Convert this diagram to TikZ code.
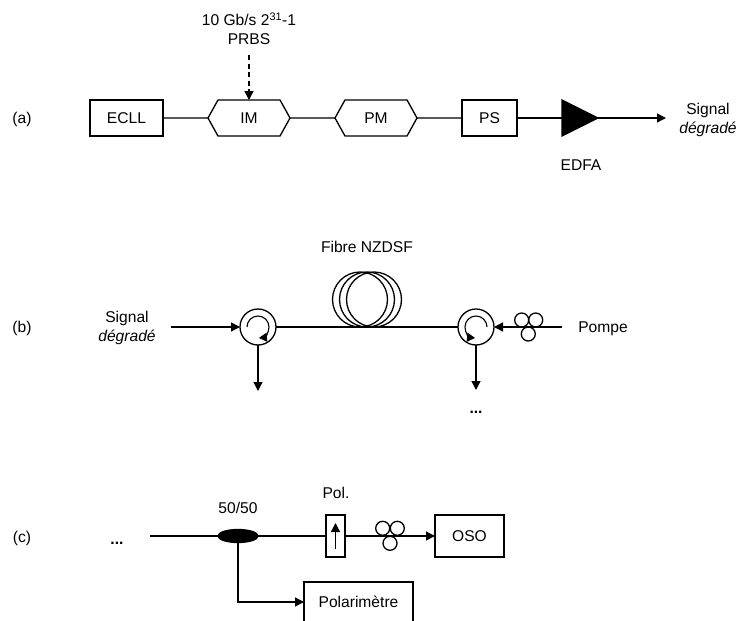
\documentclass[tikz,border=0pt]{standalone}
\usepackage{fontspec}
\setmainfont{Liberation Sans}
\usetikzlibrary{arrows.meta,positioning,shapes.geometric,shapes.symbols}
\begin{document}
\begin{tikzpicture}[x=1pt,y=-1pt,line width=1.3pt,
    >={Triangle[length=9pt,width=9pt]},
    every node/.style={font=\fontsize{15.6}{19}\selectfont,inner sep=0pt,outer sep=0pt},
    lab/.style={align=center},
    boxed/.style={draw,rectangle,minimum width=#1,minimum height=36pt},
    modul/.style={draw,signal,signal to=west and east,signal pointer angle=122,minimum width=82pt,minimum height=36pt},
    circul/.style={draw,circle,minimum size=36pt},
    coil/.style={draw,circle,minimum size=55pt},
    loopy/.style={draw,circle,minimum size=14pt},
    turn/.style={-{Triangle[length=8pt,width=9pt]},line width=1.1pt}]
    \useasboundingbox (0,0) rectangle (737,621);
    % (a)
    \node[lab] (labA) at (22,119.5) {(a)};
    \node[boxed=73pt] (ecll) at (126.5,118) {ECLL};
    \node[modul] (im) at (249,118) {IM};
    \node[modul] (pm) at (376,118) {PM};
    \node[boxed=55pt] (ps) at (489.5,118) {PS};
    \node[draw,fill=black,isosceles triangle,isosceles triangle apex angle=53.13,minimum height=36pt,anchor=lower side] (edfa) at (562,118) {};
    \node[lab] (prbs) at (249,28.5) {10 Gb/s 2\textsuperscript{31}-1\\PRBS};
    \node[lab] (sigA) at (708,120) {Signal\\\textit{dégradé}};
    \node[lab] (edfaLab) at (581,165) {EDFA};
    \coordinate (sigEnd) at (666,118);
    \draw (ecll) -- (im);
    \draw (im) -- (pm);
    \draw (pm) -- (ps);
    \draw (ps) -- (edfa.lower side);
    \draw[->] (edfa.apex) -- (sigEnd);
    \draw[->,dashed,dash pattern=on 5pt off 3.5pt] (249,55) -- (im.north);
    % (b)
    \node[lab] (labB) at (22,328.5) {(b)};
    \node[lab] (sigB) at (127,328) {Signal\\\textit{dégradé}};
    \node[lab] (fibre) at (367,247) {Fibre NZDSF};
    \node[lab] (pompe) at (603,328.5) {Pompe};
    \node[circul] (circA) at (258,327) {};
    \node[circul] (circB) at (476,327) {};
    \foreach \cx/\name in {360/coilA,367/coilB,374/coilC}
      \node[coil] (\name) at (\cx,299.5) {};
    \node[loopy] (loopA) at (521.7,320) {};
    \node[loopy] (loopB) at (535.7,320) {};
    \node[loopy] (loopC) at (528.3,334) {};
    \coordinate (sigStart) at (171,327);
    \coordinate (downA) at (258,391);
    \coordinate (downB) at (476,390);
    \coordinate (pumpStart) at (562,327);
    \draw[->] (sigStart) -- (circA);
    \draw (circA) -- (circB);
    \draw[->] (pumpStart) -- (circB);
    \draw[->] (circA) -- (downA);
    \draw[->] (circB) -- (downB);
    \draw[turn] ([shift={(180:11)}]circA.center) arc[start angle=180,end angle=445,radius=11];
    \draw[turn] ([shift={(0:11)}]circB.center) arc[start angle=360,end angle=95,radius=11];
    \node[lab] (dotsB) at (476,412) {\textbf{...}};
    % (c)
    \node[lab] (labC) at (22,538.5) {(c)};
    \node[lab] (dotsC) at (117,543) {\textbf{...}};
    \node[lab] (split) at (238,508) {50/50};
    \node[lab] (polLab) at (336,493) {Pol.};
    \node[draw,fill=black,ellipse,minimum width=40pt,minimum height=13pt] (coupler) at (238,536) {};
    \node[draw,rectangle,minimum width=19pt,minimum height=42pt] (pol) at (335.5,536) {};
    \node[draw,rectangle,minimum width=69pt,minimum height=42pt] (oso) at (469.5,536) {OSO};
    \node[draw,rectangle,minimum width=109pt,minimum height=40pt] (polari) at (358.5,602) {Polarimètre};
    \node[loopy] (loopD) at (382.7,528.3) {};
    \node[loopy] (loopE) at (397.3,528.3) {};
    \node[loopy] (loopF) at (390,543.3) {};
    \coordinate (lineStart) at (150,536);
    \coordinate (polTail) at (335.5,549);
    \coordinate (polTip) at (335.5,523);
    \draw (lineStart) -- (coupler);
    \draw (coupler) -- (pol);
    \draw[->] (pol) -- (oso);
    \draw[->] (polTail) -- (polTip);
    \draw[->] (coupler.south) |- (polari);
\end{tikzpicture}
\end{document}
